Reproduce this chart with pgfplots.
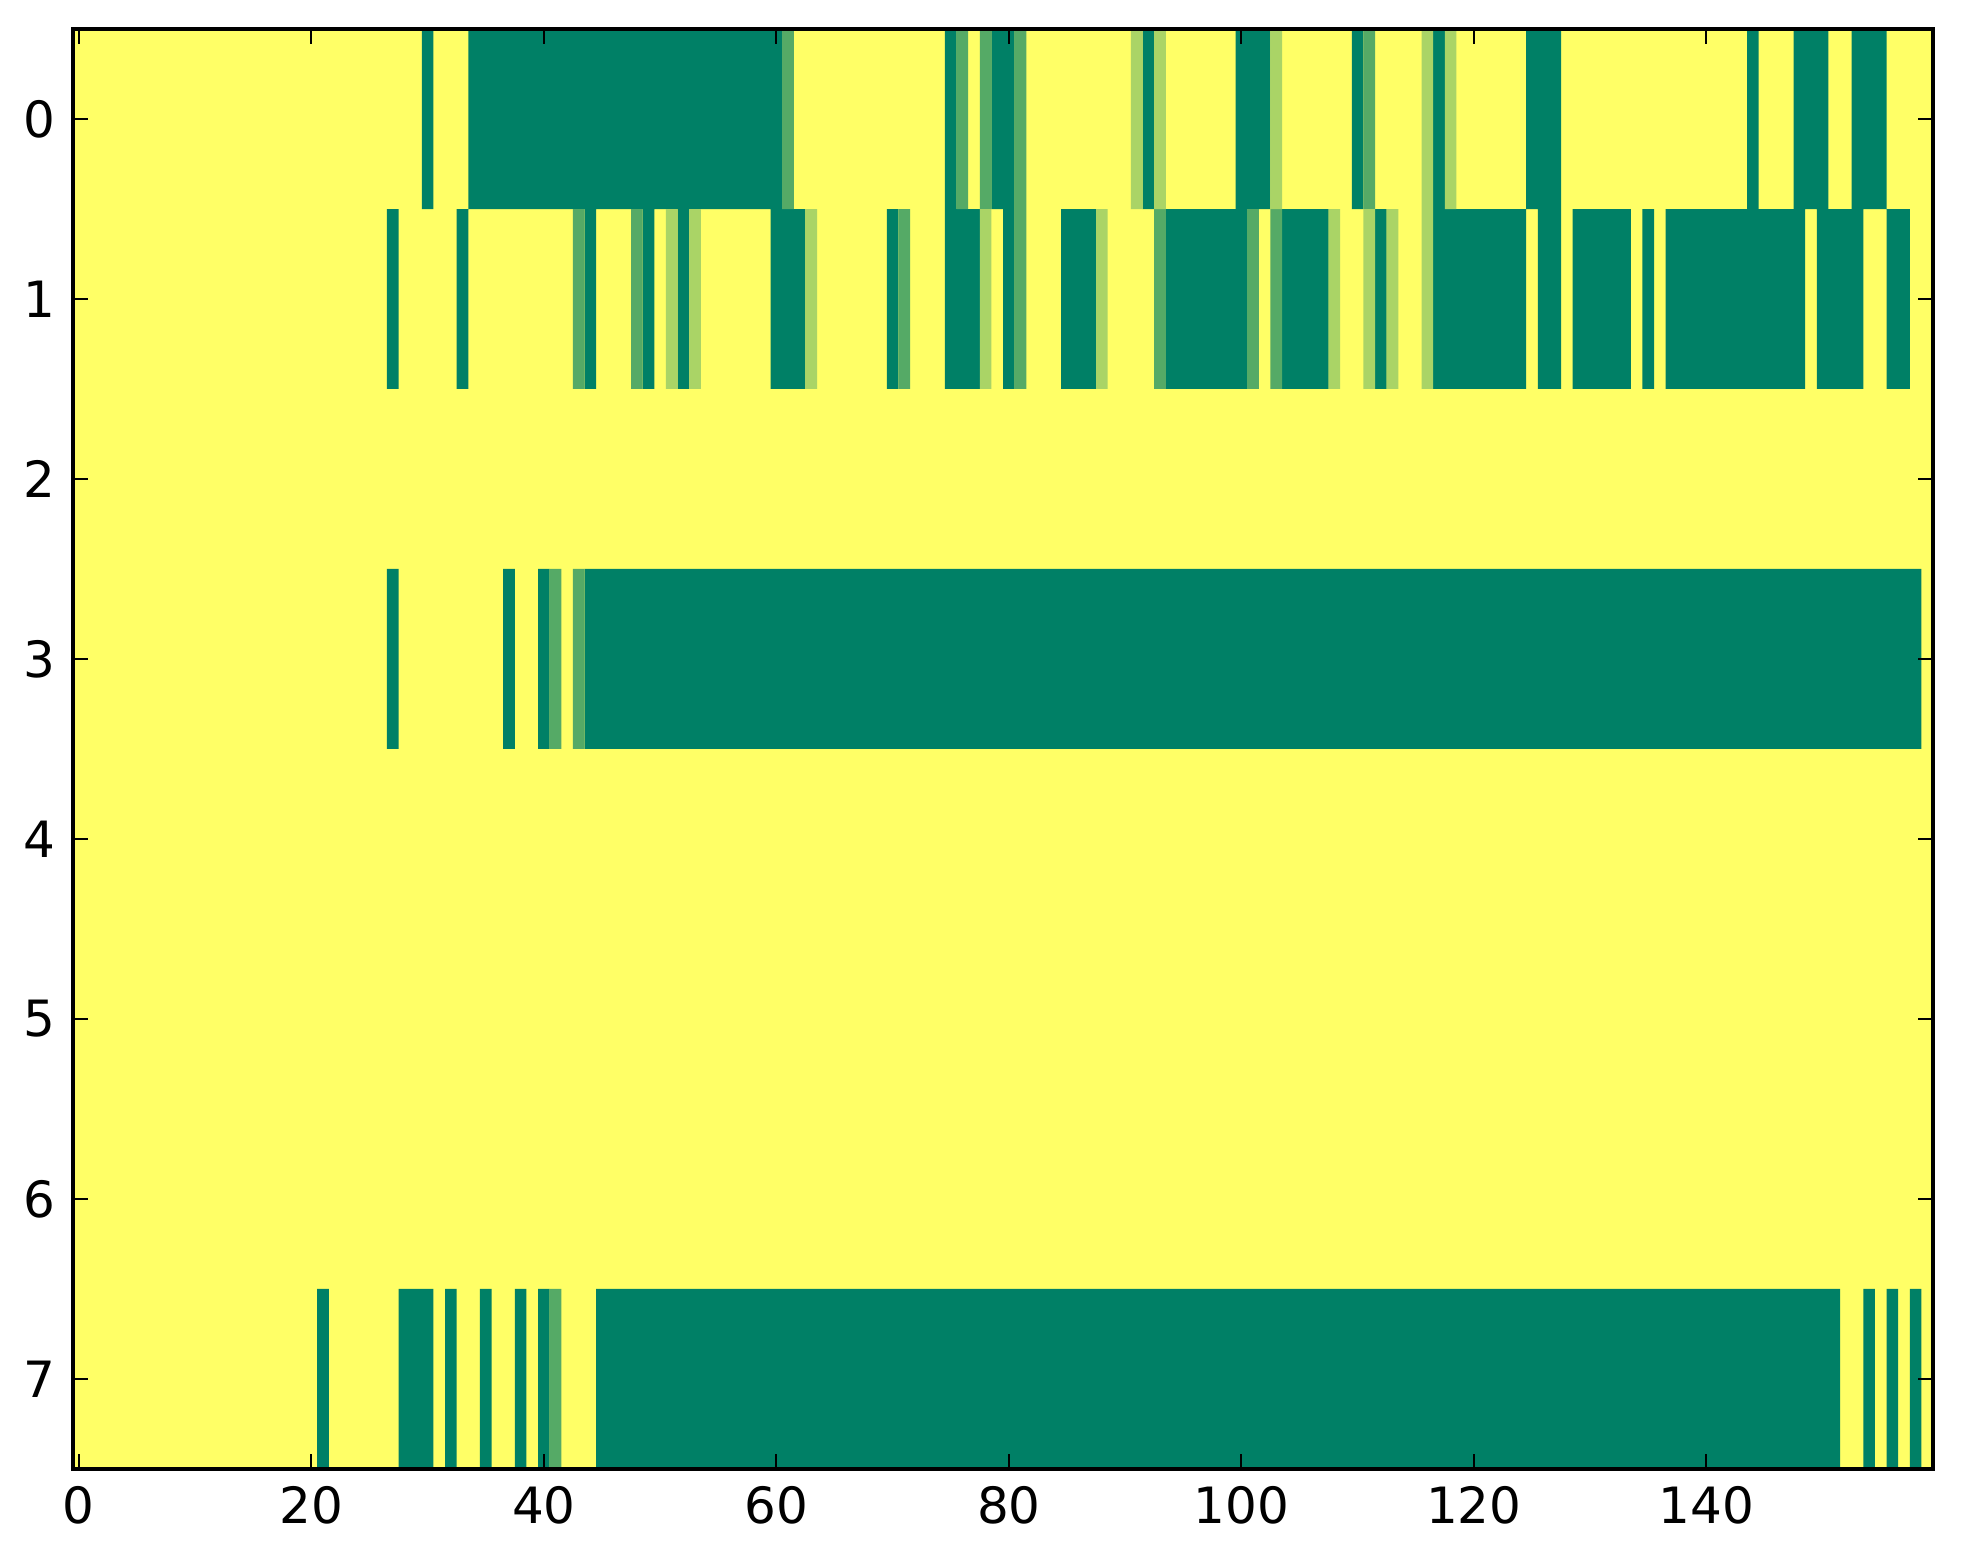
\documentclass[border=0pt]{standalone}
\usepackage{fontspec}
\setmainfont{DejaVu Sans}
\usepackage{pgfplots}
\pgfplotsset{compat=1.18}
\definecolor{cdark}{rgb}{0,0.5,0.4}
\definecolor{cmed}{rgb}{0.333,0.667,0.4}
\definecolor{clight}{rgb}{0.667,0.833,0.4}
\definecolor{cyel}{rgb}{1,1,0.4}
\begin{document}
\begin{tikzpicture}
\begin{axis}[
  scale only axis, width=372pt, height=288pt,
  xmin=-0.5, xmax=159.5, ymin=-0.5, ymax=7.5, y dir=reverse,
  xtick={0,20,...,140}, ytick={0,1,2,3,4,5,6,7},
  tick align=inside, major tick length=3pt,
  axis line style={line width=0.7pt},
  tick style={line width=0.4pt, black},
  axis background/.style={fill=cyel},
  axis on top,
  tick label style={font=\fontsize{10}{12}\selectfont},
  /pgf/number format/assume math mode=true,
  unbounded coords=jump,
]
% dark cells (value 0)
\addplot[fill=cdark, draw=none] coordinates {
(29.5,-0.5)(30.5,-0.5)(30.5,0.5)(29.5,0.5)(nan,nan)
(33.5,-0.5)(60.5,-0.5)(60.5,0.5)(33.5,0.5)(nan,nan)
(74.5,-0.5)(75.5,-0.5)(75.5,0.5)(74.5,0.5)(nan,nan)
(78.5,-0.5)(80.5,-0.5)(80.5,0.5)(78.5,0.5)(nan,nan)
(91.5,-0.5)(92.5,-0.5)(92.5,0.5)(91.5,0.5)(nan,nan)
(99.5,-0.5)(102.5,-0.5)(102.5,0.5)(99.5,0.5)(nan,nan)
(109.5,-0.5)(110.5,-0.5)(110.5,0.5)(109.5,0.5)(nan,nan)
(116.5,-0.5)(117.5,-0.5)(117.5,0.5)(116.5,0.5)(nan,nan)
(124.5,-0.5)(127.5,-0.5)(127.5,0.5)(124.5,0.5)(nan,nan)
(143.5,-0.5)(144.5,-0.5)(144.5,0.5)(143.5,0.5)(nan,nan)
(147.5,-0.5)(150.5,-0.5)(150.5,0.5)(147.5,0.5)(nan,nan)
(152.5,-0.5)(155.5,-0.5)(155.5,0.5)(152.5,0.5)(nan,nan)
(26.5,0.5)(27.5,0.5)(27.5,1.5)(26.5,1.5)(nan,nan)
(32.5,0.5)(33.5,0.5)(33.5,1.5)(32.5,1.5)(nan,nan)
(43.5,0.5)(44.5,0.5)(44.5,1.5)(43.5,1.5)(nan,nan)
(48.5,0.5)(49.5,0.5)(49.5,1.5)(48.5,1.5)(nan,nan)
(51.5,0.5)(52.5,0.5)(52.5,1.5)(51.5,1.5)(nan,nan)
(59.5,0.5)(62.5,0.5)(62.5,1.5)(59.5,1.5)(nan,nan)
(69.5,0.5)(70.5,0.5)(70.5,1.5)(69.5,1.5)(nan,nan)
(74.5,0.5)(77.5,0.5)(77.5,1.5)(74.5,1.5)(nan,nan)
(79.5,0.5)(80.5,0.5)(80.5,1.5)(79.5,1.5)(nan,nan)
(84.5,0.5)(87.5,0.5)(87.5,1.5)(84.5,1.5)(nan,nan)
(93.5,0.5)(100.5,0.5)(100.5,1.5)(93.5,1.5)(nan,nan)
(103.5,0.5)(107.5,0.5)(107.5,1.5)(103.5,1.5)(nan,nan)
(111.5,0.5)(112.5,0.5)(112.5,1.5)(111.5,1.5)(nan,nan)
(116.5,0.5)(124.5,0.5)(124.5,1.5)(116.5,1.5)(nan,nan)
(125.5,0.5)(127.5,0.5)(127.5,1.5)(125.5,1.5)(nan,nan)
(128.5,0.5)(133.5,0.5)(133.5,1.5)(128.5,1.5)(nan,nan)
(134.5,0.5)(135.5,0.5)(135.5,1.5)(134.5,1.5)(nan,nan)
(136.5,0.5)(148.5,0.5)(148.5,1.5)(136.5,1.5)(nan,nan)
(149.5,0.5)(153.5,0.5)(153.5,1.5)(149.5,1.5)(nan,nan)
(155.5,0.5)(157.5,0.5)(157.5,1.5)(155.5,1.5)(nan,nan)
(26.5,2.5)(27.5,2.5)(27.5,3.5)(26.5,3.5)(nan,nan)
(36.5,2.5)(37.5,2.5)(37.5,3.5)(36.5,3.5)(nan,nan)
(39.5,2.5)(40.5,2.5)(40.5,3.5)(39.5,3.5)(nan,nan)
(43.5,2.5)(158.5,2.5)(158.5,3.5)(43.5,3.5)(nan,nan)
(20.5,6.5)(21.5,6.5)(21.5,7.5)(20.5,7.5)(nan,nan)
(27.5,6.5)(30.5,6.5)(30.5,7.5)(27.5,7.5)(nan,nan)
(31.5,6.5)(32.5,6.5)(32.5,7.5)(31.5,7.5)(nan,nan)
(34.5,6.5)(35.5,6.5)(35.5,7.5)(34.5,7.5)(nan,nan)
(37.5,6.5)(38.5,6.5)(38.5,7.5)(37.5,7.5)(nan,nan)
(39.5,6.5)(40.5,6.5)(40.5,7.5)(39.5,7.5)(nan,nan)
(44.5,6.5)(151.5,6.5)(151.5,7.5)(44.5,7.5)(nan,nan)
(153.5,6.5)(154.5,6.5)(154.5,7.5)(153.5,7.5)(nan,nan)
(155.5,6.5)(156.5,6.5)(156.5,7.5)(155.5,7.5)(nan,nan)
(157.5,6.5)(158.5,6.5)(158.5,7.5)(157.5,7.5)
};
% medium cells (value 1/3)
\addplot[fill=cmed, draw=none] coordinates {
(60.5,-0.5)(61.5,-0.5)(61.5,0.5)(60.5,0.5)(nan,nan)
(75.5,-0.5)(76.5,-0.5)(76.5,0.5)(75.5,0.5)(nan,nan)
(77.5,-0.5)(78.5,-0.5)(78.5,0.5)(77.5,0.5)(nan,nan)
(80.5,-0.5)(81.5,-0.5)(81.5,0.5)(80.5,0.5)(nan,nan)
(110.5,-0.5)(111.5,-0.5)(111.5,0.5)(110.5,0.5)(nan,nan)
(42.5,0.5)(43.5,0.5)(43.5,1.5)(42.5,1.5)(nan,nan)
(47.5,0.5)(48.5,0.5)(48.5,1.5)(47.5,1.5)(nan,nan)
(70.5,0.5)(71.5,0.5)(71.5,1.5)(70.5,1.5)(nan,nan)
(80.5,0.5)(81.5,0.5)(81.5,1.5)(80.5,1.5)(nan,nan)
(92.5,0.5)(93.5,0.5)(93.5,1.5)(92.5,1.5)(nan,nan)
(100.5,0.5)(101.5,0.5)(101.5,1.5)(100.5,1.5)(nan,nan)
(102.5,0.5)(103.5,0.5)(103.5,1.5)(102.5,1.5)(nan,nan)
(40.5,2.5)(41.5,2.5)(41.5,3.5)(40.5,3.5)(nan,nan)
(42.5,2.5)(43.5,2.5)(43.5,3.5)(42.5,3.5)(nan,nan)
(40.5,6.5)(41.5,6.5)(41.5,7.5)(40.5,7.5)
};
% light cells (value 2/3)
\addplot[fill=clight, draw=none] coordinates {
(90.5,-0.5)(91.5,-0.5)(91.5,0.5)(90.5,0.5)(nan,nan)
(92.5,-0.5)(93.5,-0.5)(93.5,0.5)(92.5,0.5)(nan,nan)
(102.5,-0.5)(103.5,-0.5)(103.5,0.5)(102.5,0.5)(nan,nan)
(115.5,-0.5)(116.5,-0.5)(116.5,0.5)(115.5,0.5)(nan,nan)
(117.5,-0.5)(118.5,-0.5)(118.5,0.5)(117.5,0.5)(nan,nan)
(50.5,0.5)(51.5,0.5)(51.5,1.5)(50.5,1.5)(nan,nan)
(52.5,0.5)(53.5,0.5)(53.5,1.5)(52.5,1.5)(nan,nan)
(62.5,0.5)(63.5,0.5)(63.5,1.5)(62.5,1.5)(nan,nan)
(77.5,0.5)(78.5,0.5)(78.5,1.5)(77.5,1.5)(nan,nan)
(87.5,0.5)(88.5,0.5)(88.5,1.5)(87.5,1.5)(nan,nan)
(107.5,0.5)(108.5,0.5)(108.5,1.5)(107.5,1.5)(nan,nan)
(110.5,0.5)(111.5,0.5)(111.5,1.5)(110.5,1.5)(nan,nan)
(112.5,0.5)(113.5,0.5)(113.5,1.5)(112.5,1.5)(nan,nan)
(115.5,0.5)(116.5,0.5)(116.5,1.5)(115.5,1.5)
};
\end{axis}
\path (current axis.south west) ++(-14.6pt,-19pt);
\path (current axis.north east) ++(6pt,5.8pt);
\end{tikzpicture}
\end{document}
